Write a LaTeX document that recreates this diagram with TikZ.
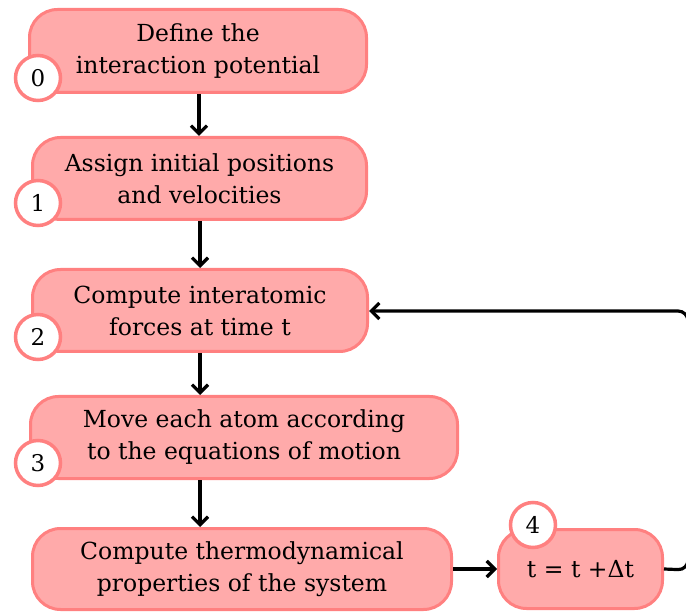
\documentclass[tikz,border=0pt]{standalone}
\usepackage{fontspec}
\setmainfont{DejaVu Serif}
\usetikzlibrary{arrows.meta}
\definecolor{boxfill}{RGB}{255,170,170}
\definecolor{boxline}{RGB}{255,128,128}
\tikzset{
  stepbox/.style={draw=boxline, fill=boxfill, line width=3pt, rounded corners=28pt,
    align=center, inner sep=0pt, font=\fontsize{23.5}{32}\selectfont},
  numcirc/.style={circle, draw=boxline, fill=white, line width=3.5pt, minimum size=45pt,
    inner sep=0pt, font=\fontsize{23}{26}\selectfont},
  flow/.style={line width=3.2pt, -{Straight Barb[length=8pt,width=16pt,line width=3.2pt]}}
}
\begin{document}
\begin{tikzpicture}[x=1pt,y=-1pt]
\useasboundingbox (0,0) rectangle (686,612);
\clip (0,0) rectangle (686,612);
\node[stepbox, minimum width=337pt, minimum height=83pt] (b0) at (198,51) {Define the\\interaction potential};
\node[stepbox, minimum width=334pt, minimum height=82pt] (b1) at (199.5,178.5) {Assign initial positions\\and velocities};
\node[stepbox, minimum width=335pt, minimum height=82pt] (b2) at (200,310.5) {Compute interatomic\\forces at time t};
\node[stepbox, minimum width=427pt, minimum height=82pt] (b3) at (244,437.5) {Move each atom according\\to the equations of motion};
\node[stepbox, minimum width=419pt, minimum height=81pt] (b4) at (242,569) {Compute thermodynamical\\properties of the system};
\node[stepbox, minimum width=164pt, minimum height=79pt] (b5) at (580.5,569) {t = t +Δt};
\node[numcirc] (c0) at (38,78) {0};
\node[numcirc] (c1) at (38,203) {1};
\node[numcirc] (c2) at (38,337) {2};
\node[numcirc] (c3) at (38,463) {3};
\node[numcirc] (c4) at (533,525) {4};
\coordinate (r1) at (688,570);
\coordinate (r2) at (688,311);
\draw[flow] (b0.south -| 199,0) -- (b1.north -| 199,0);
\draw[flow] (b1.south -| 200,0) -- (b2.north -| 200,0);
\draw[flow] (b2.south -| 200,0) -- (b3.north -| 200,0);
\draw[flow] (b3.south -| 200,0) -- (b4.north -| 200,0);
\draw[flow] (b4.east) -- (b5.west);
\draw[flow, rounded corners=10pt] (b5.east) -- (r1) -- (r2) -- (b2.east |- r2);
\end{tikzpicture}
\end{document}
